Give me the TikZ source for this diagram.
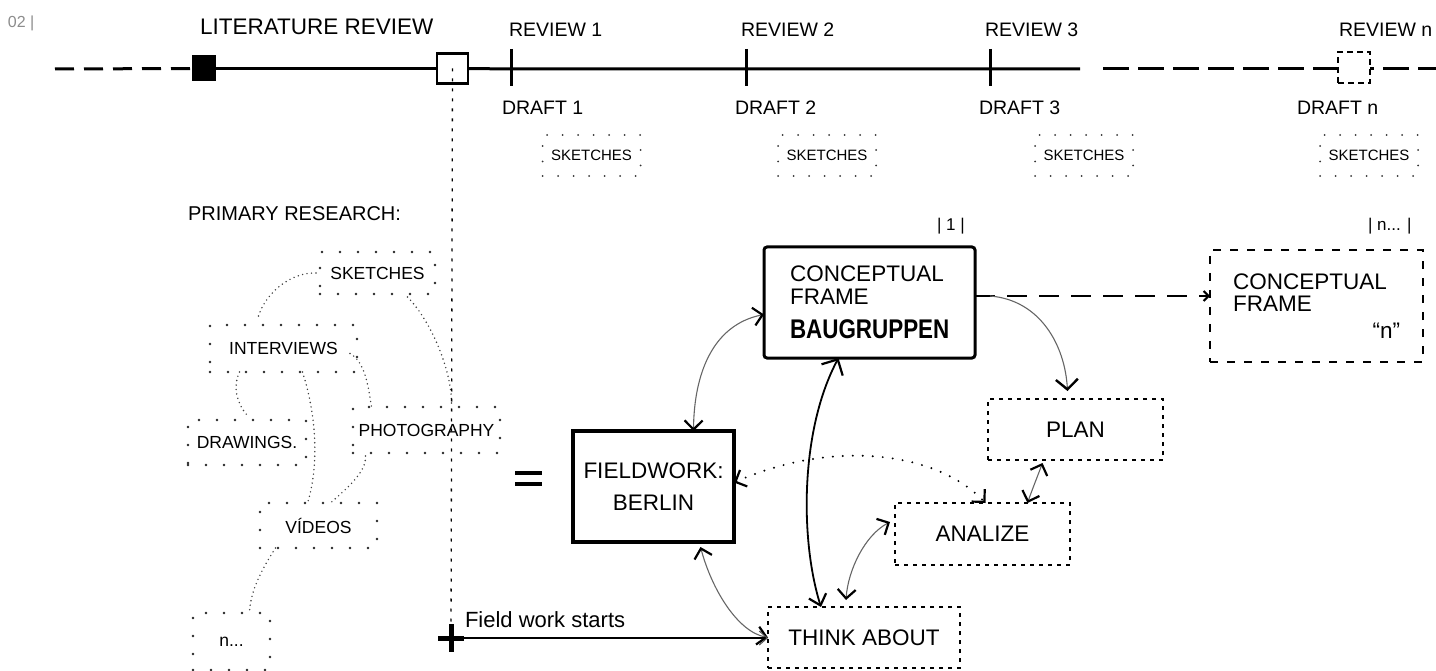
\documentclass[tikz,border=0pt]{standalone}
\usepackage{fontspec}
\setmainfont{Liberation Sans}
\usepackage{graphicx}
\usetikzlibrary{arrows.meta}
\newcommand{\fsA}{\fontsize{22.5}{23}\selectfont}
\newcommand{\fsB}{\fontsize{19.5}{21}\selectfont}
\newcommand{\fsC}{\fontsize{15}{17}\selectfont}
\newcommand{\fsD}{\fontsize{17.5}{19}\selectfont}
\newcommand{\fsE}{\fontsize{20}{22}\selectfont}
\begin{document}
\begin{tikzpicture}[x=1pt,y=-1pt,
  every node/.style={inner sep=0pt,outer sep=0pt},
  bigdots/.style={draw=black!85,line width=2.6pt,line cap=round,dash pattern=on 0pt off 18pt,font=\fsD},
  smalldots/.style={draw=black!80,line width=2pt,line cap=round,dash pattern=on 0pt off 15.5pt,minimum width=98pt,minimum height=41pt,font=\fsC},
  shortdash/.style={draw,line width=2.2pt,dash pattern=on 4pt off 5pt,font=\fsA},
  dotc/.style={draw=black!75,line width=1.6pt,line cap=round,dash pattern=on 0pt off 4.5pt},
  thinc/.style={draw=black!60,line width=1.1pt},
  lbl/.style={anchor=base west,font=\fsB},
  dbl/.style={arrows={Straight Barb[length=9pt,width=18pt,line width=2.2pt,color=black]-Straight Barb[length=9pt,width=18pt,line width=2.2pt,color=black]}},
  dblL/.style={arrows={Straight Barb[length=12pt,width=24pt,line width=2.2pt,color=black]-Straight Barb[length=10pt,width=18pt,line width=2.2pt,color=black]}},
  endv/.style={arrows={-Straight Barb[length=10pt,width=22pt,line width=2.4pt,color=black]}},
  endsm/.style={arrows={-Straight Barb[length=5pt,width=10pt,line width=2pt,color=black]}},
  endthin/.style={arrows={-Straight Barb[length=8pt,width=14pt,line width=1pt,color=black!70]}},
]
\useasboundingbox (0,0) rectangle (1436,671);

% header
\node[anchor=base west,font=\fontsize{16}{18}\selectfont,text=black!45] (pg) at (8,28) {02 |};
\node[anchor=base west,font=\fsA] (litrev) at (200,35) {LITERATURE REVIEW};

% timeline
\coordinate (tl0) at (55,69);
\node[fill=black,minimum width=24pt,minimum height=26pt] (fsq) at (204,68.5) {};
\node[draw,line width=2.5pt,minimum width=31pt,minimum height=30pt] (ls) at (452.5,68.5) {};
\coordinate (tk1) at (511,69);
\coordinate (tk2) at (746,69);
\coordinate (tk3) at (990,69);
\coordinate (tlend) at (1080,69);
\coordinate (tdash0) at (1103,69);
\coordinate (tdash1) at (1436,69);
\draw[line width=3pt,dash pattern=on 19pt off 10pt] (tl0) -- (fsq.west);
\draw[line width=3pt] (fsq.east) -- (ls.west);
\draw[line width=3pt] (ls.east) -- (tk1) -- (tk2) -- (tk3) -- (tlend);
\draw[line width=3pt,dash pattern=on 26pt off 9pt] (tdash0) -- (tdash1);
\foreach \t in {tk1,tk2,tk3}{
  \draw[line width=3pt] ([yshift=20pt]\t) -- ([yshift=-17pt]\t);
}
\node[draw,fill=white,line width=2pt,dash pattern=on 6pt off 4pt,minimum width=32pt,minimum height=31pt] (lsn) at (1354,67.5) {};

\node[lbl] (rv1) at (509,37) {REVIEW 1};
\node[lbl] (rv2) at (741,37) {REVIEW 2};
\node[lbl] (rv3) at (985,37) {REVIEW 3};
\node[lbl] (rvn) at (1339,37) {REVIEW n};
\node[lbl] (df1) at (502,115) {DRAFT 1};
\node[lbl] (df2) at (735,115) {DRAFT 2};
\node[lbl] (df3) at (979,115) {DRAFT 3};
\node[lbl] (dfn) at (1297,115) {DRAFT n};

\node[smalldots] (s1) at (591.5,155.5) {SKETCHES};
\node[smalldots] (s2) at (827,155.5) {SKETCHES};
\node[smalldots] (s3) at (1084,155.5) {SKETCHES};
\node[smalldots] (s4) at (1369,155.5) {SKETCHES};

% primary research cluster
\node[anchor=base west,font=\fsE] (pr) at (188,221) {PRIMARY RESEARCH:};
\node[bigdots,minimum width=115pt,minimum height=42pt] (sk) at (377.5,273) {SKETCHES};
\node[bigdots,minimum width=147pt,minimum height=47pt] (iv) at (283.5,348.5) {INTERVIEWS};
\node[bigdots,minimum width=118pt,minimum height=45pt] (dr) at (247,442.5) {DRAWINGS.};
\node[bigdots,minimum width=147pt,minimum height=46pt] (ph) at (426.5,430) {PHOTOGRAPHY};
\node[bigdots,minimum width=117pt,minimum height=45pt] (vi) at (318.5,525.5) {VÍDEOS};
\node[bigdots,minimum width=77pt,minimum height=57pt] (nn) at (231.5,641.5) {n...};

\draw[dotc] ([xshift=-25pt,yshift=9pt]iv.north) .. controls (266,293) and (290,272) .. ([xshift=-3pt]sk.west);
\draw[dotc] ([xshift=30pt,yshift=-3pt]sk.south) .. controls (432,322) and (452,372) .. ([xshift=25pt,yshift=3pt]ph.north);
\draw[dotc] ([xshift=-7pt,yshift=-5pt]iv.east) .. controls (365,362) and (368,385) .. ([xshift=-55pt]ph.north);
\draw[dotc] ([xshift=-44pt]iv.south) .. controls (232,388) and (238,405) .. ([yshift=5pt]dr.north);
\draw[dotc] ([xshift=19pt]iv.south) .. controls (318,420) and (318,470) .. ([xshift=-11pt]vi.north);
\draw[dotc] ([xshift=-61pt,yshift=-3pt]ph.south) .. controls (367,472) and (345,490) .. ([xshift=12pt]vi.north);
\draw[dotc] ([xshift=-43pt]vi.south) .. controls (258,575) and (250,595) .. ([xshift=18pt]nn.north);

% vertical dotted line and field work start
\coordinate (fwstart) at (451,638);
\draw[line width=1.3pt,dash pattern=on 3pt off 7pt] (ls.center) -- (fwstart);

% equals
\draw[line width=4pt] (515,473) -- (542,473) (515,484) -- (542,484);

% main boxes
\node[draw,line width=4pt,minimum width=161pt,minimum height=111pt,align=center,font=\fontsize{22.5}{32}\selectfont] (fw) at (653.5,486.5) {FIELDWORK:\\BERLIN};
\node[draw,line width=3pt,rounded corners=3pt,minimum width=211pt,minimum height=111pt,text width=159pt,align=left,font=\fsA] (cf) at (869.5,302.5) {CONCEPTUAL\\FRAME\\[11pt]\scalebox{0.83}[1]{\fontsize{27}{27}\selectfont\bfseries BAUGRUPPEN}};
\node[draw,line width=2pt,dash pattern=on 8pt off 9pt,minimum width=213pt,minimum height=112pt,text width=167pt,align=left,font=\fontsize{22.5}{22}\selectfont] (cfn) at (1316.5,306) {CONCEPTUAL\\FRAME\\[5pt]\hfill“n”};
\node[anchor=base west,font=\fontsize{17}{19}\selectfont] (one) at (937,231) {| 1 |};
\node[anchor=base west,font=\fontsize{17}{19}\selectfont] (nlab) at (1368,231) {| n... |};

\node[shortdash,minimum width=175pt,minimum height=61pt] (plan) at (1075.5,429.5) {PLAN};
\node[shortdash,minimum width=175pt,minimum height=62pt] (an) at (982.5,534) {ANALIZE};
\node[shortdash,minimum width=192pt,minimum height=61pt] (think) at (864,637.5) {THINK ABOUT};

% connectors
\draw[thinc,dbl] ([xshift=40pt]fw.north) .. controls (694,375) and (712,325) .. ([yshift=-12pt]cf.west);
\draw[line width=1.8pt,dblL] ([xshift=-31pt]cf.south) .. controls (800,430) and (800,540) .. ([xshift=-43pt]think.north);
\draw[line width=2.2pt,line cap=round,dash pattern=on 0pt off 10pt,dbl] ([yshift=4pt]fw.east) .. controls (830,440) and (935,450) .. ([xshift=3pt]an.north);
\draw[line width=2.6pt,dash pattern=on 20pt off 12pt,endsm] ([yshift=6.5pt]cf.east) -- ([yshift=6.5pt]cf.east -| cfn.west);
\draw[thinc,endv] ([xshift=15pt,yshift=6.5pt]cf.east) .. controls (1040,300) and (1065,345) .. ([xshift=-8pt,yshift=8pt]plan.north);
\draw[thinc,dbl] ([xshift=-33pt,yshift=-3pt]plan.south) .. controls (1038,475) and (1032,490) .. ([xshift=45pt]an.north);
\draw[thinc,dbl] ([xshift=-18pt,yshift=7pt]think.north) .. controls (848,570) and (865,535) .. ([xshift=-5pt,yshift=12pt]an.west);
\draw[thinc,dbl] ([xshift=47pt,yshift=-5pt]fw.south) .. controls (712,590) and (738,632) .. (think.west);

\draw[line width=2.8pt,endthin] (fwstart) -- (fwstart -| think.west);
\draw[line width=5pt] ([xshift=-13pt]fwstart) -- ([xshift=13pt]fwstart);
\draw[line width=5pt] ([yshift=14pt]fwstart) -- ([yshift=-14pt]fwstart);
\node[anchor=base west,font=\fontsize{22}{24}\selectfont] (fws) at (465,627) {Field work starts};

\end{tikzpicture}
\end{document}
